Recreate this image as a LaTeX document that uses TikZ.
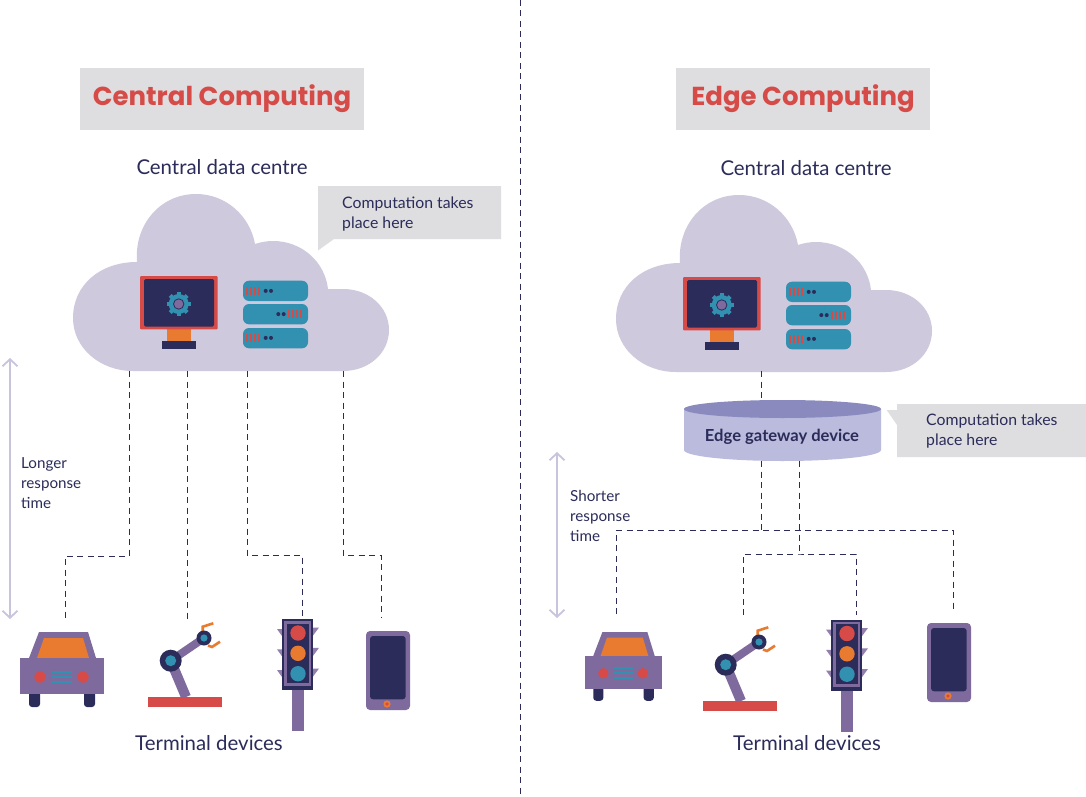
\documentclass[tikz,border=0pt]{standalone}
\usepackage{fontspec}
\setmainfont{Lato}
\newfontfamily\titlefont{Poppins}
\usetikzlibrary{arrows.meta}
\definecolor{cloudc}{HTML}{CFC9DD}
\definecolor{tealc}{HTML}{3290B0}
\definecolor{redc}{HTML}{D64B47}
\definecolor{orangec}{HTML}{E87B30}
\definecolor{navyc}{HTML}{2B2C5A}
\definecolor{purplec}{HTML}{7F6A9E}
\definecolor{lightp}{HTML}{9A88B5}
\definecolor{grayc}{HTML}{DEDEE0}
\definecolor{arrowc}{HTML}{C9C4DD}
\definecolor{cylbody}{HTML}{BBBBDD}
\definecolor{cyltop}{HTML}{8A8ABF}
\tikzset{
  dashline/.style={draw=navyc,line width=1pt,dash pattern=on 6pt off 4.5pt},
  sizearrow/.style={draw=arrowc,line width=1.8pt,{Straight Barb[length=7pt,width=15pt]}-{Straight Barb[length=7pt,width=15pt]}},
  titlebox/.style={fill=grayc,inner sep=0pt,minimum height=62pt,text=redc,font=\titlefont\bfseries\fontsize{26}{30}\selectfont},
  heading/.style={text=navyc,inner sep=0pt,font=\fontsize{20.4}{25}\selectfont},
  note/.style={text=navyc,inner sep=0pt,align=left,font=\fontsize{15.8}{20}\selectfont},
}
\newcommand{\drawcloud}{%
  \fill[cloudc] (133,371) .. controls (100,371) and (73,348) .. (73,318)
    .. controls (73,285) and (100,262) .. (137,262)
    .. controls (134,225) and (160,194) .. (196,194)
    .. controls (226,194) and (250,216) .. (255,244)
    .. controls (261,242) and (267,241) .. (273,241)
    .. controls (302,241) and (325,262) .. (328,289)
    -- (343,289) .. controls (369,289) and (389,307) .. (389,330)
    .. controls (389,353) and (369,371) .. (343,371) -- cycle;
  % monitor
  \fill[orangec] (167,329) rectangle (191,341);
  \fill[navyc] (162,341) rectangle (196,349);
  \fill[redc,rounded corners=1pt] (140,276) rectangle (217.7,329.3);
  \fill[navyc,rounded corners=1.5pt] (144,279) rectangle (214,326.7);
  \foreach \a in {0,45,...,315} \draw[tealc,line width=4pt] (178.7,304) ++(\a:8) -- ++(\a:4);
  \fill[tealc] (178.7,304) circle[radius=10];
  \fill[purplec,draw=navyc,line width=0.8pt] (178.7,304) circle[radius=5.2];
  % servers
  \foreach \y in {280.7,304,328} {
    \fill[tealc,rounded corners=6pt] (243,\y) rectangle (308,\y+20.3);
  }
  \foreach \y in {286.7,333.7} {
    \foreach \x in {246.2,250.2,254.2,258.2} \fill[redc] (\x,\y) rectangle ++(2,8.3);
    \fill[navyc] (265.7,\y+4.2) circle[radius=2] (271,\y+4.2) circle[radius=2];
  }
  \foreach \x in {288.2,292.2,296.2,300.2} \fill[redc] (\x,310) rectangle ++(2,8.3);
  \fill[navyc] (278.3,314.1) circle[radius=2] (283.7,314.1) circle[radius=2];
}
\newcommand{\drawcar}{%
  \fill[navyc,rounded corners=3pt] (29,690) -- (29,707) -- (40,707) -- (40,690) -- cycle;
  \fill[navyc,rounded corners=3pt] (84,690) -- (84,707) -- (95,707) -- (95,690) -- cycle;
  \fill[purplec] (29,658) -- (39,632) -- (88,632) -- (96,658) -- cycle;
  \fill[orangec] (37,658) -- (44,638) -- (83,638) -- (89,658) -- cycle;
  \fill[purplec] (20,658) rectangle (104,694);
  \fill[redc] (40,677) circle[radius=5.7] (83,677) circle[radius=5.7];
  \foreach \y in {670.5,675.8,680.8} \fill[tealc] (52,\y) rectangle (72,\y+2);
}
\newcommand{\drawrobot}{%
  \draw[purplec,line width=10pt] (170.7,660.7) -- (186,697);
  \draw[purplec,line width=8pt] (170.7,660.7) -- (204,638);
  \fill[redc] (148,697) rectangle (222,707);
  \draw[orangec,line width=2.6pt] (202.7,632) -- (202.7,626.7) -- (213.3,623.3);
  \draw[orangec,line width=2.6pt] (208,645.5) -- (212,647) -- (220,641.7);
  \fill[navyc] (170.7,660.7) circle[radius=11] (204,638) circle[radius=7.5];
  \fill[tealc] (170.7,660.7) circle[radius=5.5] (204,638) circle[radius=3.6];
}
\newcommand{\drawlight}{%
  \fill[purplec] (292,690) rectangle (304,731);
  \foreach \d in {0,20.3,41} {
    \fill[lightp!70!purplec] (277,629+\d) -- (282,629+\d) -- (282,636+\d) -- cycle;
    \fill[lightp!70!purplec] (312.7,636+\d) -- (319,627.5+\d) -- (312.7,627.5+\d) -- cycle;
  }
  \fill[navyc] (282,619) rectangle (312.7,690);
  \fill[purplec] (284,621) rectangle (311,686);
  \fill[navyc] (286.7,623.7) rectangle (309,683);
  \fill[redc] (298,633) circle[radius=7.7];
  \fill[orangec] (298,653.3) circle[radius=7.7];
  \fill[tealc] (298,673.7) circle[radius=7.7];
}
\newcommand{\drawphone}{%
  \fill[purplec,rounded corners=4pt] (366,631) rectangle (410,710);
  \fill[navyc,rounded corners=3pt] (370,636) rectangle (405.7,699.3);
  \fill[orangec] (387,704) circle[radius=3.6];
  \fill[redc] (387,704) circle[radius=1.8];
}
\begin{document}
\begin{tikzpicture}[x=1pt,y=-1pt]
\useasboundingbox (0,0) rectangle (1086,797);
\fill[white] (0,0) rectangle (1086,797);
% divider
\coordinate (divtop) at (520,0);
\coordinate (divbot) at (520,797);
\draw[dashline] (divtop) -- (divbot);
% titles
\node[titlebox,minimum width=284pt] (titleA) at (222,99) {Central Computing};
\node[titlebox,minimum width=254pt] (titleB) at (803,99) {Edge Computing};
% clouds
\drawcloud
\begin{scope}[shift={(543,1)}]\drawcloud\end{scope}
\node[heading] (dcA) at (222,167) {Central data centre};
\node[heading] (dcB) at (806,168) {Central data centre};
% bubbles
\fill[grayc] (318,186) -- (501,186) -- (501,239) -- (334,239) -- (318,250.5) -- cycle;
\node[note,anchor=north west] (noteA) at (342,197) {Computation takes\\place here};
\fill[grayc] (897,404) -- (1086,404) -- (1086,457) -- (897,457) -- (897,425) -- (886.7,410) -- (897,410) -- cycle;
\node[note,anchor=north west] (noteB) at (926,414) {Computation takes\\place here};
% left anchors
\coordinate (a1) at (129,371);
\coordinate (a2) at (187,371);
\coordinate (a3) at (247,371);
\coordinate (a4) at (343,371);
\coordinate (carA) at (65,618);
\coordinate (robotA) at (187,622);
\coordinate (lightA) at (302,618);
\coordinate (phoneA) at (381,618);
\draw[dashline] (a1) -- ++(0,185) -| (carA);
\draw[dashline] (a2) -- (robotA);
\draw[dashline] (a3) -- ++(0,184) -| (lightA);
\draw[dashline] (a4) -- ++(0,184) -| (phoneA);
% right anchors
\coordinate (b0) at (761,371);
\coordinate (gwtop) at (761,400);
\coordinate (gw1) at (761,461);
\coordinate (gw2) at (799,461);
\coordinate (j1) at (761,530);
\coordinate (j2) at (799,554);
\coordinate (carB) at (616,614);
\coordinate (phoneB) at (953,612);
\coordinate (robotB) at (743,615);
\coordinate (lightB) at (856,615);
\draw[dashline] (b0) -- (gwtop);
\draw[dashline] (gw1) -- (j1);
\draw[dashline] (gw2) -- (j2);
\draw[dashline] (carB) |- (j1) -| (phoneB);
\draw[dashline] (robotB) |- (j2) -| (lightB);
% gateway
\fill[cylbody] (684,409) -- (684,450) arc[start angle=180,end angle=0,x radius=98.5,y radius=11] -- (881,409) -- cycle;
\fill[cyltop] (782.5,409) ellipse[x radius=98.5,y radius=9];
\node[text=navyc,inner sep=0pt,font=\bfseries\fontsize{16.6}{18}\selectfont] (gw) at (782,437) {Edge gateway device};
% response arrows
\coordinate (ra1) at (10,358);
\coordinate (ra2) at (10,619);
\coordinate (rb1) at (557,452);
\coordinate (rb2) at (557,618);
\draw[sizearrow] (ra1) -- (ra2);
\draw[sizearrow] (rb1) -- (rb2);
\node[note,anchor=north west,font=\fontsize{15.2}{20}\selectfont] (longer) at (21,457) {Longer\\response\\time};
\node[note,anchor=north west,font=\fontsize{15.2}{20}\selectfont] (shorter) at (570,490) {Shorter\\response\\time};
% devices left
\drawcar \drawrobot \drawlight \drawphone
% devices right
\begin{scope}[shift={(585,632)},scale=0.917,shift={(-20,-632)}]\drawcar\end{scope}
\begin{scope}[shift={(555,4)}]\drawrobot\end{scope}
\begin{scope}[shift={(549,0.5)}]\drawlight\end{scope}
\begin{scope}[shift={(561,-8)}]\drawphone\end{scope}
\node[heading] (tdA) at (209,743) {Terminal devices};
\node[heading] (tdB) at (807,743) {Terminal devices};
\end{tikzpicture}
\end{document}
